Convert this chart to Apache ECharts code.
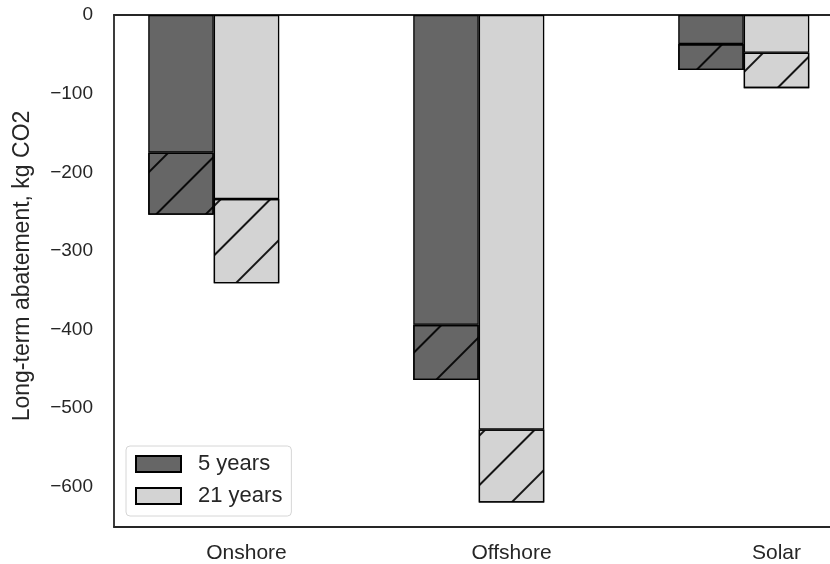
<!DOCTYPE html>
<html>
<head>
<meta charset="utf-8">
<script src="https://cdn.jsdelivr.net/npm/echarts@6/dist/echarts.min.js"></script>
<style>
  html, body { margin: 0; padding: 0; background: #ffffff; }
  #chart { width: 830px; height: 564px; }
</style>
</head>
<body>
<div id="chart"></div>
<script>
// Technologies on the x axis
const categories = ['Onshore', 'Offshore', 'Solar'];

// Abatement within the first period (solid part of each bar), kg CO2
const nearTerm5 = [-175, -394, -37];
const nearTerm21 = [-234, -527, -48];

// Total long-term abatement (bottom of each bar), kg CO2
const total5 = [-254, -464, -70];
const total21 = [-341, -620, -93];

// Y axis tick labels
const yTicks = [0, -100, -200, -300, -400, -500, -600];

const legendNames = ['5 years', '21 years'];

const rest5 = total5.map((v, i) => v - nearTerm5[i]);
const rest21 = total21.map((v, i) => v - nearTerm21[i]);

const DARK = '#666666';
const LIGHT = '#d3d3d3';
const INK = '#262626';
const FONT = '"Liberation Sans", Arial, sans-serif';
const BAR_W = 65.5;

// diagonal "/" hatching for the later part of each bar
const hatch = {
  symbol: 'rect',
  symbolSize: 1,
  symbolKeepAspect: false,
  dashArrayX: [1, 0],
  dashArrayY: [0, 16, 2, 17],
  rotation: -Math.PI / 4,
  color: 'rgba(0,0,0,0.9)'
};

function barSeries(name, data, stack, color, withHatch) {
  const style = { color: color, borderColor: '#000', borderWidth: 1.3 };
  if (withHatch) style.decal = hatch;
  return {
    name: name,
    type: 'bar',
    stack: stack,
    data: data,
    barWidth: BAR_W,
    barGap: '0%',
    itemStyle: style,
    emphasis: { disabled: true },
    animation: false
  };
}

const chart = echarts.init(document.getElementById('chart'), null, { renderer: 'canvas' });

chart.setOption({
  backgroundColor: '#ffffff',
  animation: false,
  textStyle: { fontFamily: FONT },
  grid: {
    left: 114, top: 15, width: 795, height: 512,
    containLabel: false, outerBoundsMode: 'none'
  },
  legend: {
    data: legendNames,
    orient: 'vertical',
    left: 126,
    top: 446,
    padding: [7, 9, 9, 9],
    itemWidth: 45,
    itemHeight: 16,
    itemGap: 10,
    icon: 'rect',
    borderColor: '#d6d6d6',
    borderWidth: 1,
    borderRadius: 4,
    backgroundColor: '#ffffff',
    selectedMode: false,
    textStyle: {
      fontFamily: FONT, fontSize: 22, color: INK, lineHeight: 22,
      padding: [0, 0, 0, 12]
    }
  },
  xAxis: [
    {
      type: 'category',
      data: categories,
      position: 'bottom',
      axisLine: { show: true, onZero: false, lineStyle: { color: INK, width: 1.8 } },
      axisTick: { show: false },
      axisLabel: { fontFamily: FONT, fontSize: 21, color: INK, margin: 16 },
      splitLine: { show: false }
    },
    {
      type: 'category',
      data: categories,
      position: 'top',
      axisLine: { show: true, onZero: false, lineStyle: { color: INK, width: 1.8 } },
      axisTick: { show: false },
      axisLabel: { show: false },
      splitLine: { show: false }
    }
  ],
  yAxis: {
    type: 'value',
    min: -651,
    max: 0,
    name: 'Long-term abatement, kg CO2',
    nameLocation: 'middle',
    nameGap: 80,
    nameTextStyle: { fontFamily: FONT, fontSize: 23, color: INK, padding: [0, 0, 0, 10] },
    axisLine: { show: true, onZero: false, lineStyle: { color: INK, width: 1.8 } },
    axisTick: { show: false },
    splitLine: { show: false },
    axisLabel: {
      customValues: yTicks,
      fontFamily: FONT,
      fontSize: 19,
      color: INK,
      margin: 21,
      formatter: v => (v < 0 ? '\u2212' + Math.abs(v) : String(v))
    }
  },
  series: [
    barSeries(legendNames[0], nearTerm5, 'y5', DARK, false),
    barSeries('5 years, later', rest5, 'y5', DARK, true),
    barSeries(legendNames[1], nearTerm21, 'y21', LIGHT, false),
    barSeries('21 years, later', rest21, 'y21', LIGHT, true),
    // empty third slot so each pair sits left of the category centre
    {
      name: 'spacer',
      type: 'bar',
      stack: 'pad',
      data: ['-', '-', '-'],
      barWidth: BAR_W,
      barGap: '0%',
      itemStyle: { opacity: 0 },
      silent: true
    }
  ]
});
</script>
</body>
</html>
